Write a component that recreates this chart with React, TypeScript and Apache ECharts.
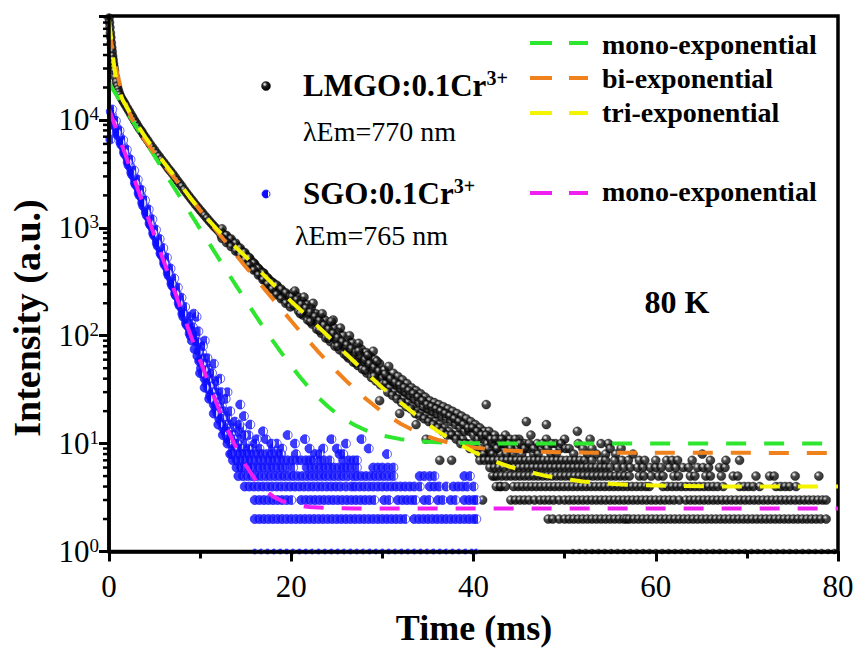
import React, { useEffect, useRef } from "react";
import * as echarts from "echarts";

const FONT = "Liberation Serif";

// ---------- axis ticks ----------
const xTickInterval = 20;
const yMinorTickValues = [
  2, 3, 4, 5, 6, 7, 8, 9, 20, 30, 40, 50, 60, 70, 80, 90, 200, 300, 400, 500, 600, 700, 800, 900,
  2000, 3000, 4000, 5000, 6000, 7000, 8000, 9000, 20000, 30000, 40000, 50000, 60000, 70000, 80000, 90000,
];

// ---------- LMGO:0.1Cr3+ (black) ----------
const lmgoDecay: number[][] = [
  [0, 88000], [0.05, 80000], [0.1, 72000], [0.15, 64000], [0.2, 58000], [0.25, 52000], [0.3, 47000],
  [0.35, 43000], [0.4, 39000], [0.45, 36000], [0.5, 33000], [0.55, 30500], [0.6, 28500], [0.7, 25000],
  [0.8, 22500], [0.9, 20500], [1.0, 19200], [1.1, 18000], [1.2, 17000], [1.35, 16000], [1.5, 15200],
  [1.65, 14500], [1.8, 13800], [2.0, 12900], [2.2, 12100], [2.4, 11300], [2.6, 10600], [2.8, 9900],
  [3.0, 9300], [3.2, 8700], [3.4, 8200], [3.6, 7800], [3.8, 7300], [4.0, 6900], [4.25, 6450], [4.5, 6000],
  [4.75, 5600], [5.0, 5250], [5.25, 4900], [5.5, 4600], [5.75, 4300], [6.0, 4050], [6.25, 3800], [6.5, 3550],
  [6.75, 3350], [7.0, 3150], [7.25, 2950], [7.5, 2750], [7.75, 2580], [8.0, 2420], [8.25, 2250], [8.5, 2110],
  [8.75, 1980], [9.0, 1860], [9.25, 1750], [9.5, 1640], [9.75, 1550], [10.0, 1460], [10.25, 1380],
  [10.5, 1300], [10.75, 1230], [11.0, 1160], [11.25, 1100], [11.5, 1040], [11.75, 990], [12.0, 940],
  [12.25, 930], [12.3, 860], [12.5, 880], [12.6, 830], [12.75, 850], [12.9, 790], [13.0, 800], [13.1, 760],
  [13.25, 780], [13.4, 730], [13.5, 740], [13.6, 700], [13.75, 705], [13.9, 670], [14.0, 680], [14.1, 620],
  [14.25, 640], [14.4, 600], [14.5, 610], [14.6, 560], [14.75, 590], [14.9, 540], [15.0, 560], [15.1, 500],
  [15.25, 530], [15.4, 480], [15.5, 510], [15.6, 460], [15.75, 480], [15.9, 430], [16.0, 460], [16.1, 410],
  [16.25, 430], [16.4, 390], [16.5, 410], [16.6, 370], [16.75, 390], [16.9, 345], [17.0, 380], [17.1, 330],
  [17.25, 350], [17.4, 315], [17.5, 335], [17.6, 300], [17.75, 320], [17.9, 280], [18.0, 310], [18.1, 270],
  [18.25, 290], [18.4, 255], [18.5, 285], [18.6, 245], [18.75, 265], [18.9, 235], [19.0, 260], [19.1, 225],
  [19.25, 245], [19.4, 215], [19.5, 240], [19.6, 205], [19.75, 225], [19.9, 200], [20.0, 215],
  [12.4, 980], [12.9, 850], [13.4, 790], [13.9, 720], [14.4, 650], [14.9, 590], [15.4, 530], [15.9, 470],
  [16.4, 420], [16.9, 380], [17.4, 345], [17.9, 310], [18.4, 295], [18.9, 270], [19.4, 250], [19.9, 230],
  [12.4, 800], [12.9, 730], [13.4, 670], [13.9, 610], [14.4, 555], [14.9, 500], [15.4, 450], [15.9, 405],
  [16.4, 365], [16.9, 330], [17.4, 300], [17.9, 270], [18.4, 240], [18.9, 220], [19.4, 200], [19.9, 185],
];

const lmgoCloud: number[][] = [
  [20.2, 250], [20.3, 190], [20.5, 205], [20.7, 230], [20.8, 170], [21.0, 185], [21.2, 210], [21.3, 155],
  [21.5, 170], [21.7, 195], [21.8, 140], [22.0, 155], [22.2, 180], [22.3, 128], [22.5, 140], [22.7, 160],
  [22.8, 115], [23.0, 128], [23.2, 150], [23.3, 105], [23.5, 118], [23.7, 140], [23.8, 95], [24.0, 108],
  [24.2, 128], [24.3, 88], [24.5, 98], [24.7, 118], [24.8, 80], [25.0, 90], [25.2, 108], [25.3, 74],
  [25.5, 83], [25.7, 100], [25.8, 68], [26.0, 77], [26.2, 92], [26.3, 62], [26.5, 72], [26.7, 86],
  [26.8, 57], [27.0, 66], [27.2, 80], [27.3, 53], [27.5, 62], [27.7, 75], [27.8, 49], [28.0, 58],
  [28.2, 70], [28.3, 45], [28.5, 53], [28.7, 64], [28.8, 41], [29.0, 49], [29.2, 60], [29.3, 38],
  [29.5, 45], [29.7, 55], [29.8, 35], [30.0, 41], [24.6, 140], [27.4, 85], [29.0, 72], [29.7, 25],
  [20.1, 230], [20.6, 215], [21.1, 195], [21.6, 180], [22.1, 165], [22.6, 150], [23.1, 138], [23.6, 125],
  [24.1, 115], [24.6, 105], [25.1, 96], [25.6, 88], [26.1, 82], [26.6, 76], [27.1, 70], [27.6, 65],
  [28.1, 60], [28.6, 55], [29.1, 51], [29.6, 47], [20.4, 260], [21.4, 228], [22.4, 200], [23.4, 160],
  [24.4, 135], [25.4, 118], [26.4, 100], [27.4, 72], [28.4, 66], [29.4, 58], [21.0, 160], [22.1, 135],
  [23.1, 112], [24.1, 95], [25.1, 80], [26.1, 65], [27.1, 56], [28.1, 48], [29.1, 42], [30.1, 36],
  [30.2, 48], [30.4, 36], [30.5, 42], [30.7, 52], [30.8, 33], [31.0, 38], [31.2, 45], [31.3, 30],
  [31.5, 35], [31.7, 42], [31.8, 28], [32.0, 32], [32.2, 39], [32.3, 26], [32.5, 30], [32.7, 36],
  [32.8, 24], [33.0, 28], [33.2, 33], [33.3, 22], [33.5, 26], [33.7, 31], [33.8, 20], [34.0, 24],
  [34.2, 29], [34.3, 19], [34.5, 22], [34.7, 27], [34.8, 18], [35.0, 21], [35.2, 25], [35.3, 17],
  [35.5, 20], [35.7, 24], [35.8, 16], [36.0, 19], [36.2, 23], [36.3, 15], [36.5, 18], [36.7, 22],
  [36.8, 14], [37.0, 17], [37.2, 21], [37.3, 13], [37.5, 16], [37.7, 20], [37.8, 12], [38.0, 15],
  [38.2, 19], [38.3, 12], [38.5, 14], [38.7, 18], [38.8, 11], [39.0, 13], [39.2, 17], [39.3, 10],
  [39.5, 13], [39.7, 16], [39.8, 10], [40.0, 12], [40.2, 15], [40.3, 9], [40.5, 11], [40.7, 14],
  [40.8, 9], [41.0, 11], [41.2, 13], [41.3, 8], [41.5, 10], [41.7, 13], [41.8, 8], [42.0, 10],
  [42.3, 12], [42.5, 9], [42.7, 11], [43.0, 8], [43.2, 10], [43.5, 12], [43.7, 9], [44.0, 11],
  [44.3, 8], [44.5, 10], [44.8, 9], [45.0, 11], [45.3, 8], [45.6, 10], [46.0, 9], [46.3, 12],
  [46.6, 8], [47.0, 10], [47.5, 9], [48.0, 11], [48.5, 8], [49.0, 10], [49.5, 9], [50.0, 11],
  [30.3, 44], [30.9, 40], [31.4, 37], [31.9, 35], [32.4, 33], [32.9, 31], [33.4, 29], [33.9, 27],
  [34.4, 25], [34.9, 23], [35.4, 22], [35.9, 21], [36.4, 20], [36.9, 19], [37.4, 18], [37.9, 17],
  [38.4, 16], [38.9, 15], [39.4, 14], [39.9, 14], [40.4, 13], [40.9, 12], [41.4, 12], [41.9, 11],
  [42.4, 11], [42.9, 10], [43.4, 10], [43.9, 10], [30.6, 30], [31.1, 28], [31.6, 26], [32.1, 24],
  [32.6, 22], [33.1, 21], [33.6, 19], [34.1, 18], [34.6, 17], [35.1, 16], [35.6, 15], [36.1, 14],
  [36.6, 13], [37.1, 12], [37.6, 12], [38.1, 11], [38.6, 10], [39.1, 10], [39.6, 9], [40.1, 9],
  [40.6, 8], [41.1, 8], [41.6, 9], [42.1, 8], [42.6, 9], [43.1, 11], [43.6, 8], [44.1, 9], [44.6, 11],
  [45.1, 10], [45.6, 9], [46.1, 10], [46.6, 9], [47.1, 8], [47.6, 10], [48.1, 9], [48.6, 10], [49.1, 8],
  [49.6, 10], [50.1, 9],
  [50.5, 9], [51.0, 8], [51.5, 10], [52.0, 9], [52.5, 8], [52.8, 11], [53.0, 9], [53.5, 8], [54.0, 10],
  [54.5, 8], [54.8, 10], [55.0, 9], [55.6, 8], [56.2, 9], [57.5, 8], [65.1, 8],
  [31.9, 19], [33.7, 15], [34.8, 11], [41.4, 23], [45.8, 16], [48.0, 15], [51.4, 13],
  [36.3, 7], [37.6, 7], [41.0, 3], [42.3, 5], [42.9, 4],
];

const lmgoRowLevels = [7, 6, 5, 4, 3, 2, 1];
const lmgoRow7 = [40.7, 41.2, 41.7, 42.2, 42.7, 43.2, 43.7, 44.2, 44.7, 45.2, 45.7, 46.2, 46.7, 47.2, 47.7, 48.2, 48.7, 49.2, 49.7, 50.2, 50.7, 51.2, 51.7, 52.2, 53.0, 54.0, 54.5, 55.5, 56.3, 57.0, 58.2, 58.8, 60.0, 61.2, 61.8, 62.4, 64.0, 66.0, 67.7, 69.2];
const lmgoRow6 = [41.8, 42.3, 42.8, 43.3, 44.0, 44.5, 45.0, 45.5, 46.0, 46.5, 47.0, 47.5, 48.0, 48.5, 49.0, 49.5, 50.0, 50.5, 51.0, 51.5, 52.0, 52.5, 53.0, 53.5, 54.0, 54.5, 55.0, 55.8, 56.5, 57.2, 58.0, 58.6, 59.4, 60.0, 60.6, 61.5, 62.2, 63.0, 63.6, 64.6, 65.2, 65.8, 67.0, 67.6];
const lmgoRow5 = [42.1, 42.6, 43.1, 43.6, 44.1, 44.6, 45.1, 45.6, 46.1, 46.6, 47.1, 47.6, 48.1, 48.6, 49.1, 49.6, 50.1, 50.6, 51.1, 51.6, 52.1, 52.6, 53.1, 53.6, 54.1, 54.6, 55.1, 55.6, 56.1, 56.6, 57.1, 58.2, 58.7, 59.5, 60.3, 60.8, 62.0, 62.5, 63.8, 64.3, 65.5, 66.0, 67.2, 68.5, 69.0, 71.0, 72.5, 73.0, 75.3, 77.9];
const lmgoRow4 = [42.5, 43.0, 43.5, 44.4, 44.9, 45.4, 45.9, 46.4, 46.9, 47.4, 47.9, 48.4, 48.9, 49.4, 49.9, 50.4, 50.9, 51.4, 51.9, 52.4, 52.9, 53.4, 53.9, 54.4, 54.9, 55.4, 55.9, 56.4, 56.9, 57.4, 57.9, 58.4, 58.9, 59.3, 60.8, 61.3, 61.8, 62.3, 62.8, 63.3, 63.8, 64.3, 64.8, 65.3, 65.8, 66.3, 66.8, 67.4, 69.2, 69.7, 70.2, 70.7, 71.4, 73.2, 73.7, 74.2, 74.7, 75.4];
const lmgoRow3 = [44.1, 44.6, 45.1, 45.6, 46.1, 46.7, 47.3, 47.8, 48.3, 48.8, 49.4, 50.0, 50.5, 51.0, 51.5, 52.0, 52.5, 53.0, 53.5, 54.0, 54.5, 55.0, 55.5, 56.0, 56.5, 57.0, 57.5, 58.0, 58.5, 59.0, 59.5, 60.0, 60.5, 61.0, 61.5, 62.0, 62.6, 63.3, 63.8, 64.3, 64.8, 65.3, 65.8, 66.3, 66.8, 67.3, 67.8, 68.3, 68.8, 69.3, 69.8, 70.3, 70.8, 71.3, 71.8, 72.3, 72.8, 73.3, 73.8, 74.3, 74.8, 75.3, 75.8, 76.3, 76.8, 77.3, 77.8, 78.3, 78.7];
const lmgoRow2 = [48.2, 48.7, 49.4, 50.0, 50.5, 51.0, 51.5, 52.0, 52.5, 53.0, 53.5, 54.0, 54.5, 55.0, 55.5, 56.0, 56.5, 56.8, 57.1, 57.6, 58.1, 58.6, 59.1, 59.6, 60.1, 60.6, 61.1, 61.6, 62.1, 62.6, 63.1, 63.6, 64.1, 64.6, 65.1, 65.6, 66.1, 66.6, 67.1, 67.6, 68.1, 68.6, 69.1, 69.6, 70.1, 70.6, 71.1, 71.6, 72.1, 72.6, 73.1, 73.6, 74.1, 74.6, 75.1, 75.6, 76.1, 76.6, 77.1, 77.6, 78.1, 78.7];
const lmgoRow1 = [50.9, 51.6, 52.3, 53.0, 53.7, 54.4, 55.1, 55.8, 56.5, 57.2, 57.9, 58.6, 59.3, 60.0, 60.7, 61.4, 62.1, 62.8, 63.5, 64.2, 64.9, 65.6, 66.3, 67.0, 67.7, 68.4, 69.1, 69.8, 70.5, 71.2, 71.9, 72.6, 73.3, 74.0, 74.7, 75.4, 76.1, 76.8, 77.5, 78.2, 78.9, 79.6];

// ---------- SGO:0.1Cr3+ (blue) ----------
const sgoDecay: number[][] = [
  [0.15, 6600], [0.2, 12000], [0.3, 11300], [0.4, 10500], [0.5, 10000], [0.6, 9500], [0.7, 9000], [0.8, 8500],
  [0.9, 8100], [1.0, 7700], [1.1, 7300], [1.2, 6900], [1.3, 6600], [1.4, 6300], [1.5, 5900], [1.6, 5600],
  [1.7, 5300], [1.8, 5000], [1.9, 4750], [2.0, 4500], [2.1, 4250], [2.2, 4000], [2.3, 3800], [2.4, 3600],
  [2.5, 3420], [2.6, 3250], [2.7, 3070], [2.8, 2900], [2.9, 2750], [3.0, 2600], [3.1, 2470], [3.2, 2350],
  [3.3, 2220], [3.4, 2100], [3.5, 2000], [3.6, 1900], [3.7, 1800], [3.8, 1700], [3.9, 1600], [4.0, 1510],
  [4.1, 1440], [4.2, 1370], [4.3, 1300], [4.4, 1230], [4.5, 1160], [4.6, 1100], [4.7, 1040], [4.8, 990],
  [4.9, 940], [5.0, 890], [5.1, 845], [5.2, 800], [5.3, 760], [5.4, 720], [5.5, 685], [5.6, 650], [5.7, 615],
  [5.8, 580], [5.9, 550], [6.0, 520], [6.1, 495], [6.2, 470], [6.3, 445], [6.4, 420], [6.5, 400], [6.6, 380],
  [6.7, 360], [6.8, 340], [6.9, 322], [7.0, 305], [7.1, 290], [7.2, 275], [7.3, 262], [7.4, 250], [7.5, 237],
  [7.6, 225], [7.7, 212], [7.8, 200], [7.9, 190], [8.0, 180], [8.1, 171], [8.2, 162], [8.3, 154], [8.4, 146],
  [8.5, 138], [8.6, 131], [8.7, 124], [8.8, 118], [8.9, 112], [9.0, 106],
  [0.35, 12500], [0.55, 8900], [0.75, 9800], [0.95, 7200], [1.15, 8000], [1.35, 5900], [1.55, 6500],
  [1.75, 4800], [1.95, 5300], [2.15, 3800], [2.35, 4300], [2.55, 3100], [2.75, 3400], [2.95, 2500],
  [3.15, 2800], [3.35, 2000], [3.55, 2250], [3.75, 1600], [3.95, 1800], [4.15, 1300], [4.35, 1480],
  [4.55, 1060], [4.75, 1200], [4.95, 850], [5.15, 960], [5.35, 680], [5.55, 790], [5.75, 560], [5.95, 650],
  [6.15, 450], [6.35, 530], [6.55, 360], [6.75, 420], [6.95, 290], [7.15, 340], [7.35, 235], [7.55, 280],
  [7.75, 190], [7.95, 225], [8.15, 150], [8.35, 185], [8.55, 125], [8.75, 150], [8.95, 100],
  [0.45, 9200], [0.85, 7600], [1.25, 6200], [1.65, 5000], [2.05, 4050], [2.45, 3250], [2.85, 2600],
  [3.25, 2100], [3.65, 1700], [4.05, 1380], [4.45, 1100], [4.85, 890], [5.25, 720], [5.65, 580],
  [6.05, 470], [6.45, 380], [6.85, 305], [7.25, 245], [7.65, 200], [8.05, 160], [8.45, 130], [8.85, 105],
];

const sgoCloud: number[][] = [
  [9.0, 130], [9.1, 90], [9.3, 110], [9.4, 75], [9.5, 95], [9.7, 65], [9.8, 85], [9.9, 58], [10.0, 78],
  [10.1, 50], [10.2, 70], [10.3, 45], [10.4, 62], [10.5, 40], [10.6, 55], [10.7, 36], [10.8, 50], [10.9, 32],
  [11.0, 45], [11.1, 28], [11.2, 40], [11.3, 26], [11.4, 36], [11.5, 23], [11.6, 32], [11.7, 21], [11.8, 30],
  [11.9, 19], [12.0, 27], [12.1, 17], [12.2, 25], [12.3, 16], [12.4, 22], [12.5, 14], [12.6, 20], [12.7, 13],
  [12.8, 18], [12.9, 12], [13.0, 17], [13.1, 11], [13.2, 15], [13.4, 10], [13.5, 14], [13.7, 12], [13.9, 9],
  [14.1, 13], [14.3, 11], [14.6, 14], [14.9, 10], [15.3, 12], [15.7, 9], [16.2, 11], [12.2, 40], [11.5, 55],
  [13.0, 30], [14.4, 23], [10.5, 90], [9.6, 150],
  [9.2, 120], [9.4, 100], [9.6, 88], [9.8, 72], [10.0, 60], [10.2, 55], [10.4, 48], [10.6, 42], [10.8, 38],
  [11.0, 34], [11.2, 30], [11.4, 27], [11.6, 24], [11.8, 22], [12.0, 20], [12.2, 18], [12.4, 17], [12.6, 15],
  [12.8, 14], [13.0, 13], [13.2, 12], [13.4, 12], [13.6, 11], [13.8, 10], [14.0, 10], [14.2, 9], [14.4, 9],
  [14.6, 8], [14.8, 8], [15.0, 8], [9.3, 160], [9.8, 110], [10.3, 80], [10.8, 62], [11.3, 45], [11.8, 38],
  [12.3, 30], [12.8, 26], [13.3, 20], [13.8, 16], [14.3, 15], [14.8, 18], [10.0, 45], [10.5, 33], [11.0, 26],
  [11.5, 19], [12.0, 15], [12.5, 12], [13.0, 10], [13.5, 8], [14.0, 7], [14.5, 6], [15.0, 7], [15.5, 6],
  [15.2, 9], [16.0, 10], [16.5, 9], [17.2, 11], [18.0, 9], [18.4, 10], [19.0, 9], [20.4, 10], [21.5, 11],
  [24.4, 11], [27.7, 11], [23.5, 9], [16.9, 13], [15.5, 15], [14.8, 12], [19.6, 12], [17.8, 10], [22.0, 9],
  [25.0, 9], [28.5, 9], [30.5, 8], [18.9, 8], [20.5, 8], [26.0, 10], [13.0, 11], [13.6, 9],
];

const sgoRowLevels = [8, 7, 6, 5, 4, 3, 2, 1];
const sgoRow8 = [13.3, 13.8, 14.3, 14.8, 15.3, 15.8, 16.3, 16.8, 17.3, 17.8, 18.3, 18.8, 22.6, 23.1, 25.3, 25.7];
const sgoRow7 = [13.6, 14.1, 14.6, 15.1, 15.6, 16.1, 16.6, 17.1, 17.6, 18.1, 18.6, 19.1, 19.6, 20.1, 20.6, 21.1, 21.6, 22.0, 22.4, 23.1, 23.6, 24.2, 25.7, 26.3, 26.8, 27.2];
const sgoRow6 = [14.0, 14.5, 15.0, 15.5, 16.0, 16.5, 17.0, 17.5, 18.0, 18.5, 19.0, 19.5, 20.2, 21.7, 22.2, 22.7, 23.2, 23.7, 24.2, 24.7, 25.2, 25.7, 26.1, 26.6, 27.2, 29.0, 29.5, 30.0, 30.6, 31.2];
const sgoRow5 = [14.2, 14.7, 15.2, 15.7, 16.2, 16.7, 17.2, 17.7, 18.2, 18.7, 19.2, 19.7, 20.2, 20.7, 21.2, 21.7, 22.2, 22.7, 23.2, 23.7, 24.2, 24.7, 25.2, 25.7, 26.2, 26.8, 27.2, 27.7, 28.2, 28.7, 29.2, 29.7, 30.2, 30.7, 31.2, 34.1, 34.6, 35.2, 35.7, 39.0, 39.6];
const sgoRow4 = [14.9, 15.4, 15.9, 16.4, 16.9, 17.4, 17.9, 18.4, 18.9, 19.4, 19.9, 20.4, 20.9, 21.4, 21.9, 22.4, 22.9, 23.4, 23.9, 24.4, 24.9, 25.4, 26.0, 26.6, 27.0, 27.5, 28.0, 28.5, 29.0, 29.5, 30.0, 30.5, 31.0, 31.5, 32.0, 32.5, 33.0, 33.5, 34.1, 35.2, 35.7, 36.2, 37.0, 37.8, 38.3, 38.8, 39.3, 40.0];
const sgoRow3 = [16.0, 16.5, 17.0, 17.5, 18.0, 18.5, 19.0, 19.5, 20.0, 21.1, 21.6, 22.1, 22.6, 23.1, 23.6, 24.1, 24.6, 25.1, 25.6, 26.1, 26.6, 27.1, 27.6, 28.1, 28.6, 29.1, 30.2, 30.7, 31.7, 32.2, 32.7, 33.2, 33.6, 34.6, 35.1, 36.1, 36.6, 37.5, 38.0, 39.0, 39.5, 40.0, 40.3];
const sgoRow2 = [16.0, 16.5, 17.0, 17.5, 18.0, 18.5, 19.0, 19.5, 20.0, 20.5, 21.0, 21.5, 22.0, 22.5, 23.0, 23.5, 24.0, 24.5, 25.0, 25.5, 26.0, 26.5, 27.0, 27.5, 28.0, 28.5, 29.0, 29.5, 30.0, 30.5, 31.0, 31.5, 32.0, 32.5, 33.5, 34.0, 34.5, 35.0, 35.5, 36.0, 36.5, 37.0, 37.5, 38.0, 38.5, 39.0, 39.5, 40.0, 40.3];
const sgoRow1 = [16.0, 16.7, 17.4, 18.1, 18.8, 19.5, 20.2, 20.9, 21.6, 22.3, 23.0, 23.7, 24.4, 25.1, 25.8, 26.5, 27.2, 27.9, 28.6, 29.3, 30.0, 30.7, 31.4, 32.1, 32.8, 33.5, 34.2, 34.9, 35.6, 36.3, 37.0, 37.7, 38.4, 39.1, 39.8, 40.3];

// ---------- fitted curves ----------
const lmgoMonoFit: number[][] = [
  [0, 22000], [1, 16080], [2, 11770], [3, 8610], [4, 6300], [5, 4610], [6, 3370], [7, 2470], [8, 1815],
  [9, 1330], [10, 976], [11, 717], [12, 527], [13, 388], [14, 287], [15, 213], [16, 158], [17, 118], [18, 89],
  [19, 68], [20, 52.5], [21, 41], [22, 32.7], [23, 26.6], [24, 22.2], [25, 18.9], [26, 16.5], [27, 14.8],
  [28, 13.5], [29, 12.55], [30, 11.9], [32, 11], [34, 10.53], [36, 10.29], [38, 10.15], [40, 10.08],
  [45, 10.02], [80, 10],
];
const lmgoBiFit: number[][] = [
  [0, 69600], [0.25, 52100], [0.5, 39800], [0.75, 31000], [1, 24900], [1.5, 17160], [2, 12900], [2.5, 10400],
  [3, 8590], [4, 6390], [5, 4930], [6, 3850], [7, 3020], [8, 2370], [9, 1860], [10, 1460], [11, 1145],
  [12, 898], [13, 705], [14, 553], [15, 434], [16, 349], [17, 275], [18, 218], [19, 173], [20, 137],
  [21, 109], [22, 87.8], [23, 70.6], [24, 57], [25, 46.6], [26, 38.4], [27, 31.9], [28, 26.8], [30, 19.6],
  [32, 15.3], [34, 12.5], [36, 10.9], [38, 9.85], [40, 9.2], [43, 8.7], [46, 8.43], [50, 8.3], [55, 8.22],
  [80, 8.2],
];
const lmgoTriFit: number[][] = [
  [0, 85000], [0.2, 60000], [0.4, 41000], [0.6, 30000], [0.8, 23500], [1, 19800], [1.5, 15300], [2, 12900],
  [2.5, 10900], [3, 9300], [3.5, 8000], [4, 6900], [5, 5250], [6, 4050], [7, 3150], [8, 2420], [9, 1860],
  [10, 1460], [11, 1160], [12, 940], [13, 780], [14, 650], [15, 540], [16, 445], [17, 365], [18, 300],
  [19, 250], [20, 208], [22, 145], [24, 100], [26, 68], [28, 47], [30, 33], [32, 24], [34, 17.5],
  [36, 13.2], [38, 10.3], [40, 8.4], [42, 7.0], [44, 6.1], [46, 5.5], [48, 5.0], [50, 4.7], [52, 4.45],
  [55, 4.25], [58, 4.12], [62, 4.05], [66, 4.02], [70, 4.0], [80, 4.0],
];
const sgoMonoFit: number[][] = [
  [0, 12600], [1, 7330], [2, 4270], [3, 2490], [4, 1450], [5, 845], [6, 492], [7, 287], [8, 168], [9, 99],
  [10, 59], [11, 35.3], [12, 21.5], [13, 13.6], [14, 9.0], [15, 6.3], [16, 4.7], [17, 3.8], [18, 3.24],
  [19, 2.93], [20, 2.75], [22, 2.58], [24, 2.53], [27, 2.51], [30, 2.5], [40, 2.5], [80, 2.5],
];

const GREEN = "#2ee62e";
const ORANGE = "#f0821e";
const YELLOW = "#f4f400";
const MAGENTA = "#f01ef0";
const BLUE = "#0c0cff";

function rowsToPoints(rows: number[][], levels: number[]): number[][] {
  const out: number[][] = [];
  rows.forEach((ts, i) => ts.forEach((t) => out.push([t, levels[i]])));
  return out;
}

export default function App() {
  const ref = useRef<HTMLDivElement>(null);

  useEffect(() => {
    if (!ref.current) return;
    const chart = echarts.init(ref.current, null, { renderer: "svg" });

    const ball = new echarts.graphic.RadialGradient(0.36, 0.32, 0.65, [
      { offset: 0, color: "#ffffff" },
      { offset: 0.16, color: "#b0b0b0" },
      { offset: 0.4, color: "#202020" },
      { offset: 1, color: "#000000" },
    ]);
    const half = new echarts.graphic.LinearGradient(0, 0, 1, 0, [
      { offset: 0, color: BLUE },
      { offset: 0.74, color: BLUE },
      { offset: 0.75, color: "#ffffff" },
      { offset: 1, color: "#ffffff" },
    ]);

    const lmgoData = [
      ...lmgoDecay,
      ...lmgoCloud,
      ...rowsToPoints([lmgoRow7, lmgoRow6, lmgoRow5, lmgoRow4, lmgoRow3, lmgoRow2, lmgoRow1], lmgoRowLevels),
    ];
    const sgoData = [
      ...sgoDecay,
      ...sgoCloud,
      ...rowsToPoints([sgoRow8, sgoRow7, sgoRow6, sgoRow5, sgoRow4, sgoRow3, sgoRow2, sgoRow1], sgoRowLevels),
    ];

    const dash = [20, 18];
    const fitLine = (name: string, data: number[][], color: string) => ({
      name,
      type: "line",
      data,
      showSymbol: false,
      symbol: "none",
      silent: true,
      lineStyle: { color, width: 4, type: dash, cap: "butt" },
      z: 4,
    });

    const legendLine = (y: number, color: string) => ({
      type: "line",
      shape: { x1: 530, y1: y, x2: 588, y2: y },
      style: { stroke: color, lineWidth: 4, lineDash: [22, 17] },
    });
    const txt = (x: number, y: number, text: string, size: number, bold: boolean, extra: any = {}) => ({
      type: "text",
      x,
      y,
      ...extra,
      style: {
        text,
        fill: "#000",
        fontFamily: FONT,
        fontSize: size,
        fontWeight: bold ? "bold" : "normal",
        align: extra.align || "left",
        verticalAlign: "middle",
        textAlign: extra.align || "left",
        textVerticalAlign: "middle",
      },
    });
    const supText = (x: number, y: number, main: string, sup: string) => ({
      type: "text",
      x,
      y,
      style: {
        text: `{a|${main}}{b|${sup}}`,
        align: "left",
        verticalAlign: "middle",
        rich: {
          a: { fontFamily: FONT, fontSize: 31, fontWeight: "bold", fill: "#000", lineHeight: 34 },
          b: { fontFamily: FONT, fontSize: 20, fontWeight: "bold", fill: "#000", lineHeight: 20, verticalAlign: "top" },
        },
      },
    });

    const option: any = {
      animation: false,
      backgroundColor: "#ffffff",
      textStyle: { fontFamily: FONT },
      grid: {
        left: 109,
        right: 18,
        top: 16,
        bottom: 96.5,
        show: true,
        borderColor: "#000",
        borderWidth: 3.5,
        containLabel: false,
        outerBoundsMode: "none",
      },
      xAxis: {
        type: "value",
        min: 0,
        max: 80,
        interval: xTickInterval,
        z: 5,
        axisLine: { show: true, onZero: false, lineStyle: { color: "#000", width: 3.5 } },
        axisTick: { show: true, inside: false, length: 10, lineStyle: { color: "#000", width: 3 } },
        minorTick: { show: true, splitNumber: 2, length: 7, lineStyle: { color: "#000", width: 3 } },
        splitLine: { show: false },
        axisLabel: { color: "#000", fontFamily: FONT, fontSize: 31, margin: 19 },
      },
      yAxis: {
        type: "log",
        logBase: 10,
        min: 1,
        max: 92000,
        z: 5,
        axisLine: { show: true, lineStyle: { color: "#000", width: 3.5 } },
        axisTick: { show: true, inside: false, length: 10, lineStyle: { color: "#000", width: 3 } },
        splitLine: { show: false },
        axisLabel: {
          margin: 10,
          fontFamily: FONT,
          formatter: (v: number) => {
            const e = Math.round(Math.log10(v));
            if (Math.abs(v - Math.pow(10, e)) > 1e-6 * v) return "";
            return `{b|10}{s|${e}}`;
          },
          rich: {
            b: { fontFamily: FONT, fontSize: 31, color: "#000", lineHeight: 32 },
            s: { fontFamily: FONT, fontSize: 19, color: "#000", lineHeight: 19, verticalAlign: "top" },
          },
        },
      },
      series: [
        {
          name: "LMGO:0.1Cr3+",
          type: "scatter",
          data: lmgoData,
          symbol: "circle",
          symbolSize: (v: number[]) => (v[1] <= 1 ? 5 : 9),
          silent: true,
          itemStyle: { color: ball, borderColor: "#000", borderWidth: 0.4 },
          z: 2,
        },
        {
          name: "SGO:0.1Cr3+",
          type: "scatter",
          data: sgoData,
          symbol: "circle",
          symbolSize: (v: number[]) => (v[1] <= 1 ? 5 : 9),
          silent: true,
          itemStyle: { color: half, borderColor: "#1a1aff", borderWidth: 0.9 },
          z: 3,
        },
        fitLine("mono-exponential (LMGO)", lmgoMonoFit, GREEN),
        fitLine("bi-exponential", lmgoBiFit, ORANGE),
        fitLine("tri-exponential", lmgoTriFit, YELLOW),
        fitLine("mono-exponential (SGO)", sgoMonoFit, MAGENTA),
        {
          type: "custom",
          name: "yMinorTicks",
          coordinateSystem: "cartesian2d",
          silent: true,
          clip: false,
          z: 6,
          data: yMinorTickValues.map((v) => [0, v]),
          renderItem: (_p: any, api: any) => {
            const pt = api.coord([0, api.value(1)]);
            return {
              type: "line",
              shape: { x1: pt[0] - 6, y1: pt[1], x2: pt[0], y2: pt[1] },
              style: { stroke: "#000", lineWidth: 2.5 },
            };
          },
        },
      ],
      graphic: [
        txt(474, 628, "Time (ms)", 36, true, { align: "center" }),
        {
          ...txt(27, 318, "Intensity (a.u.)", 38, true, { align: "center" }),
          rotation: Math.PI / 2,
        },
        txt(677, 302, "80 K", 32, true, { align: "center" }),
        {
          type: "circle",
          shape: { cx: 266, cy: 86, r: 4.5 },
          style: { fill: ball, stroke: "#000", lineWidth: 0.4 },
        },
        supText(303, 85, "LMGO:0.1Cr", "3+"),
        txt(303, 131, "λEm=770 nm", 28, false),
        {
          type: "circle",
          shape: { cx: 266, cy: 194, r: 4 },
          style: { fill: half, stroke: "#1a1aff", lineWidth: 0.9 },
        },
        supText(303, 193, "SGO:0.1Cr", "3+"),
        txt(295, 235, "λEm=765 nm", 28, false),
        legendLine(43, GREEN),
        txt(602, 44, "mono-exponential", 28, true),
        legendLine(78, ORANGE),
        txt(602, 78, "bi-exponential", 28, true),
        legendLine(113, YELLOW),
        txt(602, 112, "tri-exponential", 28, true),
        legendLine(193, MAGENTA),
        txt(602, 191, "mono-exponential", 28, true),
      ],
    };

    chart.setOption(option);
    return () => chart.dispose();
  }, []);

  return (
    <div
      ref={ref}
      style={{ position: "fixed", left: 0, top: 0, width: 856, height: 648, background: "#fff" }}
    />
  );
}
